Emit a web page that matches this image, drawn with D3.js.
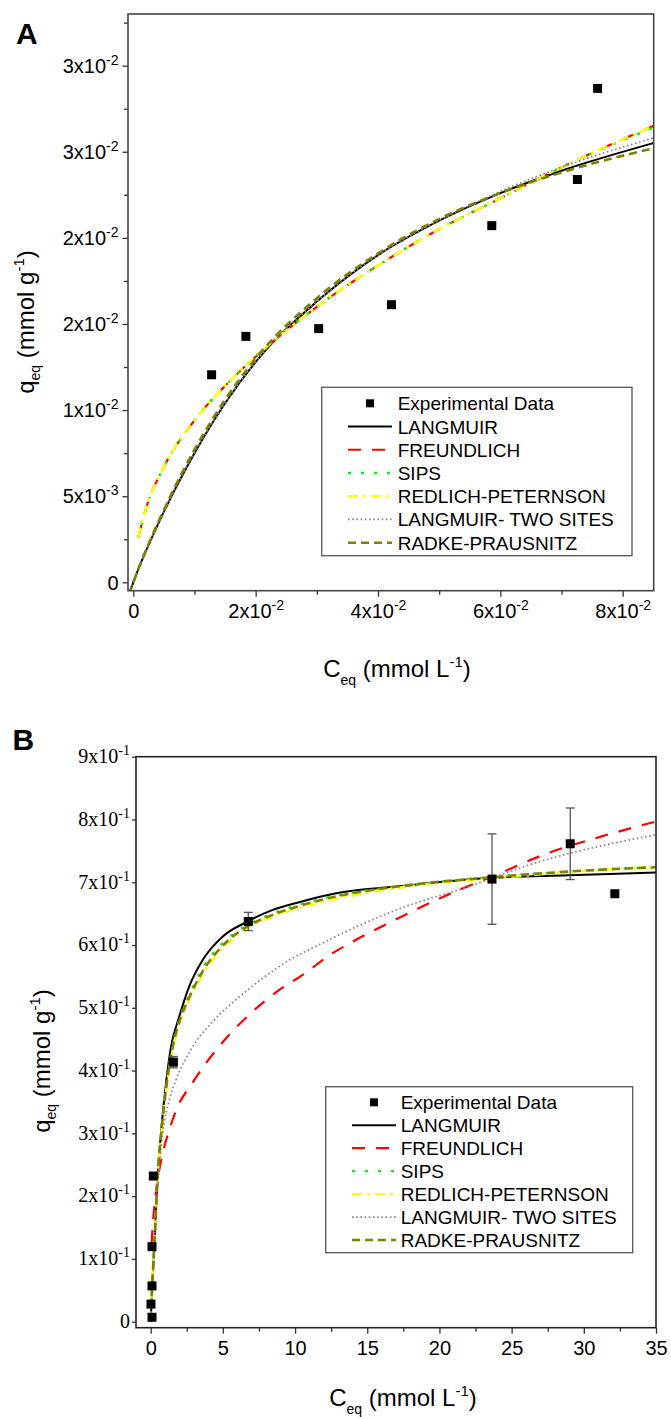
<!DOCTYPE html>
<html><head><meta charset="utf-8">
<script src="https://cdn.jsdelivr.net/npm/d3@7"></script>
<style>body{margin:0;background:#fff}svg{display:block}</style>
</head><body>
<svg id="chart" width="671" height="1419"></svg>
<script>
// ---------------- DATA ----------------
const legendNames = ["Experimental Data","LANGMUIR","FREUNDLICH","SIPS","REDLICH-PETERNSON","LANGMUIR- TWO SITES","RADKE-PRAUSNITZ"];

// Panel A
const aTicksY = [0, 0.005, 0.01, 0.015, 0.02, 0.025, 0.03];
const aTickLabelsY = ["0","5x10^-3","1x10^-2","2x10^-2","2x10^-2","3x10^-2","3x10^-2"];
const aMinorY = [0.0025, 0.0075, 0.0125, 0.0175, 0.0225, 0.0275, 0.0325];
const aTicksX = [0, 0.02, 0.04, 0.06, 0.08];
const aTickLabelsX = ["0","2x10^-2","4x10^-2","6x10^-2","8x10^-2"];
const aMinorX = [0.01, 0.03, 0.05, 0.07];

const aExpC = [0.0128, 0.0184, 0.0303, 0.0422, 0.0586, 0.0726, 0.0759];
const aExpQ = [0.01205, 0.01428, 0.01473, 0.01612, 0.02071, 0.02339, 0.02868];

const aLangC = [-0.0007, 0, 0.005, 0.01, 0.015, 0.02, 0.03, 0.04, 0.05, 0.06, 0.07, 0.085];
const aLangQ = [-0.0007, 0, 0.0041, 0.0075, 0.0104, 0.0128, 0.0163, 0.0190, 0.0210, 0.0226, 0.0239, 0.0255];
const aFreuC = [0.0008, 0.002, 0.005, 0.01, 0.015, 0.02, 0.03, 0.04, 0.05, 0.06, 0.07, 0.085];
const aFreuQ = [0.0026, 0.0042, 0.0067, 0.0094, 0.0114, 0.0131, 0.0160, 0.0184, 0.0205, 0.0223, 0.0241, 0.0265];
const aSipsC = [0.0008, 0.002, 0.005, 0.01, 0.015, 0.02, 0.03, 0.04, 0.05, 0.06, 0.07, 0.085];
const aSipsQ = [0.0026, 0.0042, 0.0067, 0.0094, 0.0114, 0.0131, 0.0160, 0.0184, 0.0205, 0.0223, 0.0241, 0.0264];
const aRedC = [0.0008, 0.002, 0.005, 0.01, 0.015, 0.02, 0.03, 0.04, 0.05, 0.06, 0.07, 0.085];
const aRedQ = [0.0026, 0.0042, 0.0067, 0.0094, 0.0114, 0.0131, 0.0160, 0.0184, 0.0205, 0.0223, 0.0241, 0.0265];
const aTwoC = [-0.0007, 0, 0.005, 0.01, 0.015, 0.02, 0.03, 0.04, 0.05, 0.06, 0.07, 0.085];
const aTwoQ = [-0.0007, 0, 0.0041, 0.0075, 0.0104, 0.0128, 0.0163, 0.0190, 0.0210, 0.0227, 0.0241, 0.0258];
const aRadkeC = [-0.0007, 0, 0.005, 0.01, 0.015, 0.02, 0.03, 0.04, 0.05, 0.06, 0.07, 0.085];
const aRadkeQ = [-0.0007, 0, 0.0042, 0.0077, 0.0106, 0.0130, 0.0165, 0.0191, 0.0211, 0.0226, 0.0238, 0.0252];

// Panel B
const bTicksY = [0, 0.1, 0.2, 0.3, 0.4, 0.5, 0.6, 0.7, 0.8, 0.9];
const bTickLabelsY = ["0","1x10^-1","2x10^-1","3x10^-1","4x10^-1","5x10^-1","6x10^-1","7x10^-1","8x10^-1","9x10^-1"];
const bTicksX = [0, 5, 10, 15, 20, 25, 30, 35];
const bTickLabelsX = ["0","5","10","15","20","25","30","35"];
const bMinorX = [2.5, 7.5, 12.5, 17.5, 22.5, 27.5, 32.5];

const bExpC = [0.09, 0.02, 0.09, 0.09, 0.18, 1.57, 6.76, 23.64, 29.06, 32.15];
const bExpQ = [0.007, 0.028, 0.057, 0.1195, 0.232, 0.4134, 0.6375, 0.705, 0.7613, 0.6817];
const bExpErr = [0, 0, 0, 0, 0, 0.009, 0.0145, 0.072, 0.057, 0];

const bLangC = [0, 0.1, 0.25, 0.48, 0.71, 1.06, 1.41, 1.98, 2.67, 3.6, 4.99, 6.72, 8.45, 10.41, 12.76, 17.38, 23.64, 28.92, 35];
const bLangQ = [0, 0.055, 0.12, 0.231, 0.300, 0.380, 0.438, 0.486, 0.534, 0.576, 0.6135, 0.6375, 0.656, 0.669, 0.682, 0.694, 0.707, 0.711, 0.7156];
const bFreuC = [0.06, 0.2, 0.48, 0.83, 1.29, 1.87, 2.79, 3.83, 5.33, 7.06, 8.91, 10.53, 12.6, 13.57, 16.92, 20.84, 23.64, 27.53, 31.23, 35];
const bFreuQ = [0.125, 0.17, 0.2258, 0.268, 0.3055, 0.3426, 0.377, 0.4118, 0.4542, 0.494, 0.5286, 0.5525, 0.587, 0.600, 0.640, 0.6827, 0.709, 0.7465, 0.773, 0.7968];
const bSipsC = [0, 0.1, 0.25, 0.48, 0.71, 1.06, 1.52, 2.0, 2.56, 3.6, 5.21, 6.72, 8.45, 10.41, 12.76, 17.38, 23.64, 28.92, 35];
const bSipsQ = [0, 0.055, 0.12, 0.23, 0.296, 0.372, 0.44, 0.482, 0.515, 0.563, 0.608, 0.632, 0.65, 0.665, 0.678, 0.694, 0.708, 0.717, 0.724];
const bRedC = [0, 0.1, 0.25, 0.48, 0.71, 1.06, 1.52, 2.0, 2.56, 3.6, 5.21, 6.72, 8.45, 10.41, 12.76, 17.38, 23.64, 28.92, 35];
const bRedQ = [0, 0.055, 0.12, 0.23, 0.294, 0.368, 0.434, 0.476, 0.508, 0.553, 0.600, 0.627, 0.645, 0.660, 0.673, 0.692, 0.706, 0.716, 0.725];
const bTwoC = [0, 0.1, 0.3, 0.5, 0.83, 1.29, 1.75, 2.91, 4.29, 5.91, 7.76, 9.60, 11.45, 12.76, 17.38, 22.0, 23.64, 26.6, 31.23, 35];
const bTwoQ = [0, 0.055, 0.15, 0.22, 0.30, 0.353, 0.385, 0.438, 0.478, 0.513, 0.547, 0.576, 0.598, 0.613, 0.659, 0.693, 0.7066, 0.7305, 0.758, 0.7756];
const bRadkeC = [0, 0.1, 0.25, 0.48, 0.71, 1.06, 1.52, 2.0, 2.56, 3.6, 5.21, 6.72, 8.45, 10.41, 12.76, 17.38, 23.64, 28.92, 35];
const bRadkeQ = [0, 0.055, 0.12, 0.23, 0.295, 0.370, 0.437, 0.479, 0.511, 0.558, 0.604, 0.630, 0.648, 0.663, 0.677, 0.694, 0.708, 0.717, 0.724];

// ---------------- STYLE ----------------
const SANS = "'Liberation Sans', Arial, Helvetica, sans-serif";
const SERIF = "'Liberation Serif', 'Times New Roman', Times, serif";
const lineStyles = [
  {color:"#000000", width:2.0, dash:null},
  {color:"#ff0000", width:2.2, dash:"13,11"},
  {color:"#19e619", width:2.4, dash:"3,10"},
  {color:"#ffff00", width:2.4, dash:"10,5,3,5"},
  {color:"#858585", width:1.7, dash:"1.6,2.6"},
  {color:"#7f7f00", width:2.6, dash:"8,5"}
];

const svg = d3.select("#chart");

function zip(c, q){ return c.map((v,i)=>[v, q[i]]); }

function setLabel(sel, str, size, supSize, supDy){
  sel.text(null);
  const parts = str.split("^");
  sel.append("tspan").attr("font-size", size).text(parts[0]);
  if (parts[1]) sel.append("tspan").attr("font-size", supSize).attr("dy", supDy).text(parts[1]);
}

function drawPanel(cfg){
  const x = cfg.x, y = cfg.y;
  const [x0, x1] = x.range();
  const [y0, y1] = y.range(); // y0 bottom, y1 top
  const g = svg.append("g");

  const clipId = "clip" + cfg.key;
  svg.append("defs").append("clipPath").attr("id", clipId)
    .append("rect").attr("x", x0).attr("y", y1).attr("width", x1 - x0).attr("height", y0 - y1);

  // axes
  const tickColor = "#333";
  const yAx = g.append("g").attr("transform", `translate(${x0},0)`)
    .call(d3.axisLeft(y).tickValues(cfg.yTicks).tickSize(cfg.yTickSize).tickSizeOuter(0).tickPadding(cfg.yPad));
  yAx.attr("font-size", null).attr("font-family", null);
  yAx.select(".domain").remove();
  yAx.selectAll(".tick line").attr("stroke", tickColor).attr("stroke-width", 1.3);
  yAx.selectAll(".tick text").each(function(d, i){
    const t = d3.select(this);
    t.attr("font-family", cfg.yFont).attr("fill", "#000").attr("dy", cfg.yDy);
    setLabel(t, cfg.yLabels[i], cfg.yFontSize, cfg.supSize, cfg.supDy);
  });
  if (cfg.yMinor) {
    const ym = g.append("g").attr("transform", `translate(${x0},0)`)
      .call(d3.axisLeft(y).tickValues(cfg.yMinor).tickSize(4).tickSizeOuter(0).tickFormat(""));
    ym.select(".domain").remove();
    ym.selectAll(".tick line").attr("stroke", tickColor).attr("stroke-width", 1.3);
  }

  const xAx = g.append("g").attr("transform", `translate(0,${y0})`)
    .call(d3.axisBottom(x).tickValues(cfg.xTicks).tickSize(6).tickSizeOuter(0).tickPadding(10));
  xAx.attr("font-size", null).attr("font-family", null);
  xAx.select(".domain").remove();
  xAx.selectAll(".tick line").attr("stroke", tickColor).attr("stroke-width", 1.3);
  xAx.selectAll(".tick text").each(function(d, i){
    const t = d3.select(this);
    t.attr("font-family", SANS).attr("fill", "#000");
    setLabel(t, cfg.xLabels[i], 20, cfg.supSize, cfg.supDy);
  });
  if (cfg.xMinor) {
    const xm = g.append("g").attr("transform", `translate(0,${y0})`)
      .call(d3.axisBottom(x).tickValues(cfg.xMinor).tickSize(4).tickSizeOuter(0).tickFormat(""));
    xm.select(".domain").remove();
    xm.selectAll(".tick line").attr("stroke", tickColor).attr("stroke-width", 1.3);
  }

  // curves
  const line = d3.line().x(d => x(d[0])).y(d => y(d[1])).curve(d3.curveMonotoneX);
  const cg = g.append("g").attr("clip-path", `url(#${clipId})`);
  cfg.curves.forEach((pts, i) => {
    const s = lineStyles[i];
    cg.append("path").attr("d", line(pts)).attr("fill", "none")
      .attr("stroke", s.color).attr("stroke-width", s.width)
      .attr("stroke-dasharray", s.dash);
  });

  // error bars
  if (cfg.err) {
    cfg.exp.forEach((p, i) => {
      const e = cfg.err[i];
      if (!e) return;
      const cx = x(p[0]);
      const ya = y(p[1] + e), yb = y(p[1] - e);
      const eg = g.append("g").attr("stroke", "#555").attr("stroke-width", 1.3);
      eg.append("line").attr("x1", cx).attr("x2", cx).attr("y1", ya).attr("y2", yb);
      eg.append("line").attr("x1", cx - 4.5).attr("x2", cx + 4.5).attr("y1", ya).attr("y2", ya);
      eg.append("line").attr("x1", cx - 4.5).attr("x2", cx + 4.5).attr("y1", yb).attr("y2", yb);
    });
  }

  // experimental points
  g.append("g").selectAll("rect").data(cfg.exp).join("rect")
    .attr("x", d => x(d[0]) - 4.5).attr("y", d => y(d[1]) - 4.5)
    .attr("width", 9).attr("height", 9).attr("fill", "#000");

  // frame
  g.append("rect").attr("x", x0).attr("y", y1).attr("width", x1 - x0).attr("height", y0 - y1)
    .attr("fill", "none").attr("stroke", cfg.frameColor).attr("stroke-width", 1.6);

  // legend
  const L = cfg.legend;
  const lg = g.append("g");
  lg.append("rect").attr("x", L.x0).attr("y", L.y0).attr("width", L.x1 - L.x0).attr("height", L.y1 - L.y0)
    .attr("fill", "#fff").attr("stroke", "#555").attr("stroke-width", 1.3);
  legendNames.forEach((name, i) => {
    const ry = L.row0 + i * L.step;
    if (i === 0) {
      lg.append("rect").attr("x", (L.lx0 + L.lx1) / 2 - 4).attr("y", ry - 4).attr("width", 8).attr("height", 8).attr("fill", "#000");
    } else {
      const s = lineStyles[i - 1];
      lg.append("line").attr("x1", L.lx0).attr("x2", L.lx1).attr("y1", ry).attr("y2", ry)
        .attr("stroke", s.color).attr("stroke-width", s.width).attr("stroke-dasharray", s.dash);
    }
    lg.append("text").attr("x", L.tx).attr("y", ry + 7).attr("font-family", SANS).attr("font-size", 19)
      .attr("fill", "#000").text(name);
  });

  // panel letter
  svg.append("text").attr("x", cfg.letter.x).attr("y", cfg.letter.y).attr("font-family", SANS)
    .attr("font-weight", "bold").attr("font-size", 30).text(cfg.letter.t);

  // axis titles
  const xt = svg.append("text").attr("x", cfg.xTitle.x).attr("y", cfg.xTitle.y).attr("text-anchor", "middle")
    .attr("font-family", SANS).attr("font-size", 24).attr("fill", "#000");
  xt.append("tspan").text("C");
  xt.append("tspan").attr("font-size", 14).attr("dy", 8).text("eq");
  xt.append("tspan").attr("dy", -8).text(" (mmol L");
  xt.append("tspan").attr("font-size", 15).attr("dy", -10).text("-1");
  xt.append("tspan").attr("dy", 10).text(")");

  const yt = svg.append("text").attr("transform", `translate(${cfg.yTitle.x},${cfg.yTitle.y}) rotate(-90)`)
    .attr("text-anchor", "middle").attr("font-family", SANS).attr("font-size", 24).attr("fill", "#000");
  yt.append("tspan").text("q");
  yt.append("tspan").attr("font-size", 14).attr("dy", 6).text("eq");
  yt.append("tspan").attr("dy", -6).text(" (mmol g");
  yt.append("tspan").attr("font-size", 15).attr("dy", -10).text("-1");
  yt.append("tspan").attr("dy", 10).text(")");
}

// ---------------- PANEL A ----------------
drawPanel({
  key: "A",
  x: d3.scaleLinear().domain([-0.00087, 0.08507]).range([128, 653.7]),
  y: d3.scaleLinear().domain([-0.000488, 0.033]).range([590.7, 14]),
  yTicks: aTicksY, yLabels: aTickLabelsY, yMinor: aMinorY,
  xTicks: aTicksX, xLabels: aTickLabelsX, xMinor: aMinorX,
  yFont: SANS, yFontSize: 20, yDy: "0.42em", yTickSize: 5.5, yPad: 4,
  supSize: 14, supDy: -8,
  exp: zip(aExpC, aExpQ),
  curves: [zip(aLangC, aLangQ), zip(aFreuC, aFreuQ), zip(aSipsC, aSipsQ), zip(aRedC, aRedQ), zip(aTwoC, aTwoQ), zip(aRadkeC, aRadkeQ)],
  frameColor: "#444",
  legend: {x0: 321.7, x1: 632, y0: 387.3, y1: 555.7, row0: 403.3, step: 23.23, lx0: 348, lx1: 392, tx: 397.7},
  letter: {x: 16, y: 43.5, t: "A"},
  xTitle: {x: 397, y: 677},
  yTitle: {x: 33.5, y: 322}
});

// ---------------- PANEL B ----------------
drawPanel({
  key: "B",
  x: d3.scaleLinear().domain([-1.018, 35]).range([136, 656]),
  y: d3.scaleLinear().domain([-0.0096, 0.9]).range([1327.7, 756.7]),
  yTicks: bTicksY, yLabels: bTickLabelsY, yMinor: null,
  xTicks: bTicksX, xLabels: bTickLabelsX, xMinor: bMinorX,
  yFont: SERIF, yFontSize: 20, yDy: "0.36em", yTickSize: 4, yPad: 2,
  supSize: 14, supDy: -8,
  exp: zip(bExpC, bExpQ), err: bExpErr,
  curves: [zip(bLangC, bLangQ), zip(bFreuC, bFreuQ), zip(bSipsC, bSipsQ), zip(bRedC, bRedQ), zip(bTwoC, bTwoQ), zip(bRadkeC, bRadkeQ)],
  frameColor: "#222",
  legend: {x0: 325.7, x1: 632.7, y0: 1086.7, y1: 1252.7, row0: 1102.3, step: 22.95, lx0: 352, lx1: 396, tx: 400.7},
  letter: {x: 12.5, y: 750, t: "B"},
  xTitle: {x: 403, y: 1406},
  yTitle: {x: 50, y: 1061}
});
</script>
</body></html>
